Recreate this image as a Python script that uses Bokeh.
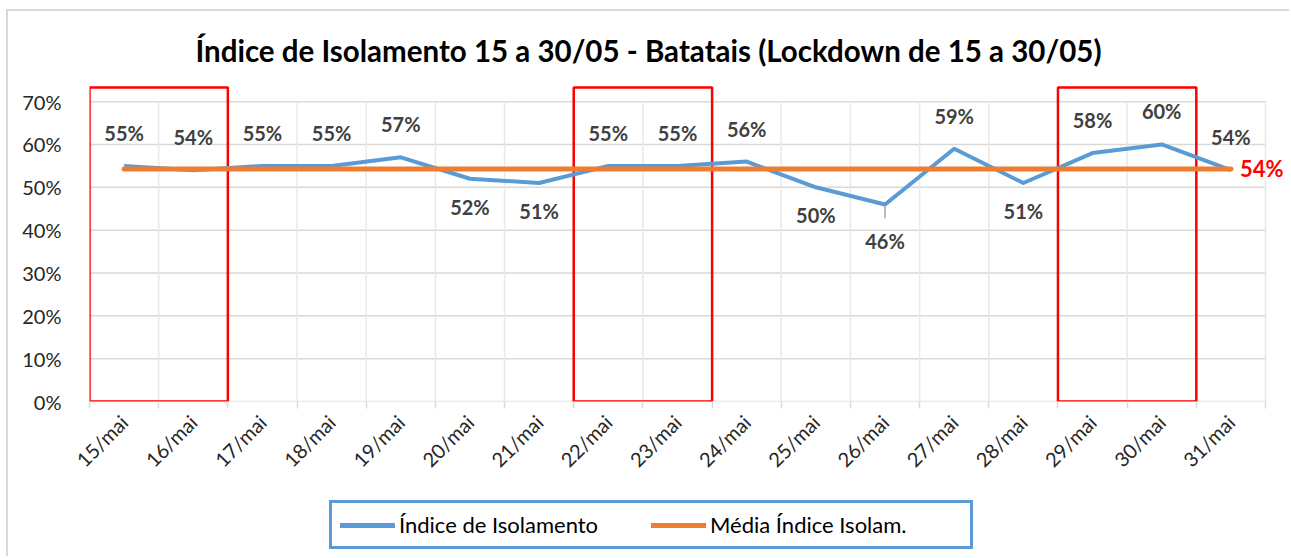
from math import pi
from bokeh.plotting import figure
from bokeh.layouts import column
from bokeh.models import (ColumnDataSource, FixedTicker, NumeralTickFormatter, Legend,
                          LegendItem, LabelSet, Label, Range1d)
from bokeh.core.properties import value
from bokeh.embed import file_html
from bokeh.resources import INLINE

dias = ["15/mai", "16/mai", "17/mai", "18/mai", "19/mai", "20/mai", "21/mai", "22/mai",
        "23/mai", "24/mai", "25/mai", "26/mai", "27/mai", "28/mai", "29/mai", "30/mai", "31/mai"]
indice = [0.55, 0.54, 0.55, 0.55, 0.57, 0.52, 0.51, 0.55, 0.55, 0.56, 0.50, 0.46,
          0.59, 0.51, 0.58, 0.60, 0.54]
media = 0.543
label_pos = ["above", "above", "above", "above", "above", "below", "below", "above", "above",
             "above", "below", "below2", "above", "below", "above", "above", "above"]
lockdowns = [("15/mai", "16/mai"), ("22/mai", "23/mai"), ("29/mai", "30/mai")]
y_ticks = [0, 0.1, 0.2, 0.3, 0.4, 0.5, 0.6, 0.7]
series_names = ["Índice de Isolamento", "Média Índice Isolam."]

FONT = "Lato"
BLUE = "#5B9BD5"
ORANGE = "#ED7D31"
GRID = "#d9d9d9"
n = len(dias)
xs = list(range(n))
bounds = [i - 0.5 for i in range(n + 1)]

p = figure(width=1283, height=477, x_range=Range1d(-0.5, 16.876), y_range=Range1d(0, 0.74),
           output_backend="svg", toolbar_location=None,
           min_border_left=81, min_border_right=0, min_border_top=73, min_border_bottom=87)
p.styles = {"border-left": f"2px solid {GRID}", "border-top": f"2px solid {GRID}"}
p.outline_line_color = None
p.background_fill_color = "white"

# title
p.title.text = "Índice de Isolamento 15 a 30/05 - Batatais (Lockdown de 15 a 30/05)"
p.title.text_font = FONT
p.title.text_font_size = "29.5px"
p.title.text_font_style = "bold"
p.title.text_color = "#000000"
p.title.align = "left"
p.title.offset = 106
p.title.standoff = 34

# axes
p.yaxis.ticker = FixedTicker(ticks=y_ticks)
p.yaxis.formatter = NumeralTickFormatter(format="0%")
p.yaxis.axis_line_color = None
p.yaxis.major_tick_line_color = None
p.yaxis.minor_tick_line_color = None
p.yaxis.major_label_standoff = 22
p.yaxis.major_label_text_font = FONT
p.yaxis.major_label_text_font_size = "20px"
p.yaxis.major_label_text_color = "#262626"

p.xaxis.ticker = FixedTicker(ticks=xs, minor_ticks=bounds)
p.xaxis.major_label_overrides = {i: d for i, d in enumerate(dias)}
p.xaxis.major_label_orientation = pi / 4
p.xaxis.major_tick_line_color = None
p.xaxis.minor_tick_line_color = GRID
p.xaxis.minor_tick_line_width = 1.5
p.xaxis.minor_tick_out = 7
p.xaxis.minor_tick_in = 0
p.xaxis.axis_line_color = None
p.xaxis.major_label_standoff = 10
p.xaxis.major_label_text_font = FONT
p.xaxis.major_label_text_font_size = "20px"
p.xaxis.major_label_text_color = "#262626"

p.xgrid.grid_line_color = None
p.ygrid.grid_line_color = None

# gridlines limited to the category area
p.segment(x0=[bounds[0]] * len(y_ticks), y0=y_ticks, x1=[bounds[-1]] * len(y_ticks), y1=y_ticks,
          line_color=GRID, line_width=1.5)
p.segment(x0=bounds, y0=[0] * len(bounds), x1=bounds, y1=[max(y_ticks)] * len(bounds),
          line_color="#e9e9e9", line_width=1.5)

# lockdown rectangles
lefts = [dias.index(a) - 0.5 for a, b in lockdowns]
rights = [dias.index(b) + 0.5 for a, b in lockdowns]
p.quad(left=lefts, right=rights, bottom=[0] * len(lefts), top=[0.733] * len(lefts),
       fill_color=None, line_color="#FF0000", line_width=2.5)

# series
p.line(xs, indice, line_color=BLUE, line_width=4, line_join="round")
p.line(xs, [media] * n, line_color=ORANGE, line_width=5, line_cap="round")

# leader line for 26/mai
for i, pos in enumerate(label_pos):
    if pos == "below2":
        p.segment(x0=[i], y0=[indice[i] - 0.004], x1=[i], y1=[indice[i] - 0.032],
                  line_color="#a6a6a6", line_width=1.5)

offsets = {"above": 33, "below": -28, "below2": -37}
src = ColumnDataSource(dict(
    x=xs, y=indice,
    txt=[f"{round(v * 100)}%" for v in indice],
    off=[offsets[pp] for pp in label_pos],
))
labels = LabelSet(x="x", y="y", text="txt", source=src, y_offset="off",
                  text_align="center", text_baseline="middle",
                  text_font=value(FONT), text_font_size=value("20px"),
                  text_font_style=value("bold"), text_color=value("#404040"))
p.add_layout(labels)

p.add_layout(Label(x=n - 1, y=media, text=f"{round(media * 100)}%", x_offset=9,
                   text_align="left", text_baseline="middle", text_font=FONT,
                   text_font_size="22px", text_font_style="bold", text_color="#FF0000"))

# legend strip below the chart (proxy lines sit outside its visible range)
q = figure(width=1283, height=70, x_range=Range1d(0, 1283), y_range=Range1d(0, 70),
           output_backend="svg", toolbar_location=None,
           min_border_left=0, min_border_right=0, min_border_top=0, min_border_bottom=0)
q.styles = {"border-left": f"2px solid {GRID}"}
q.axis.visible = False
q.grid.visible = False
q.outline_line_color = None
lr1 = q.line([-20, -10], [-20, -20], line_color=BLUE, line_width=5, line_cap="round")
lr2 = q.line([-20, -10], [-30, -30], line_color=ORANGE, line_width=5, line_cap="round")

legend = Legend(items=[LegendItem(label=series_names[0], renderers=[lr1]),
                       LegendItem(label=series_names[1], renderers=[lr2])],
                orientation="horizontal", location=(240, 7))
legend.border_line_color = BLUE
legend.border_line_width = 3
legend.border_line_alpha = 1
legend.background_fill_alpha = 1
legend.label_text_font = FONT
legend.label_text_font_size = "22px"
legend.label_text_color = "#000000"
legend.glyph_width = 55
legend.glyph_height = 20
legend.label_standoff = 4
legend.label_width = 252
legend.spacing = 0
legend.padding = 8
legend.margin = 0
q.add_layout(legend)

layout = column(p, q, spacing=0)
layout.styles = {"margin-left": "6px", "margin-top": "9px"}

open("out.html", "w").write(file_html(layout, INLINE))
